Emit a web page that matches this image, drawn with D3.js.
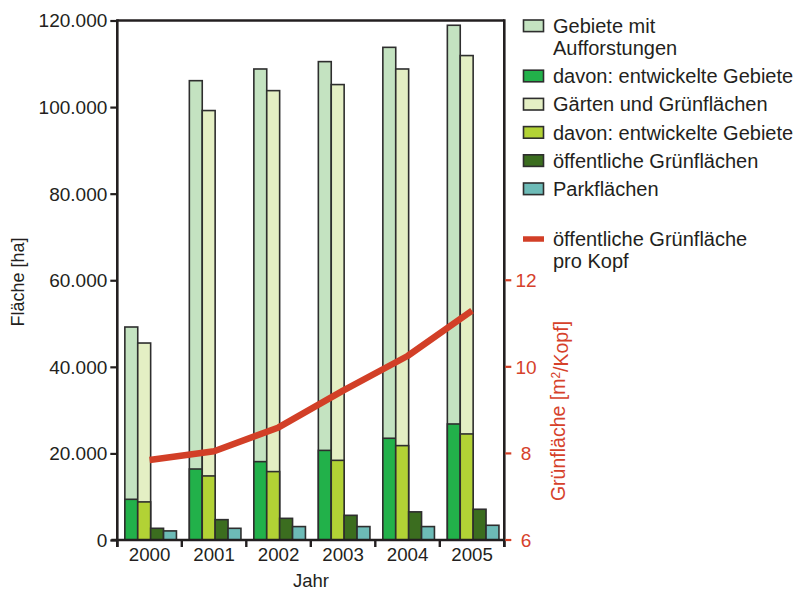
<!DOCTYPE html>
<html><head><meta charset="utf-8">
<script src="https://cdn.jsdelivr.net/npm/d3@7"></script>
<style>
body{margin:0;background:#fff;}
svg{display:block;font-family:"Liberation Sans",Arial,Helvetica,sans-serif;}
</style></head>
<body><svg id="c" width="797" height="591"></svg>
<script>
const years = ["2000","2001","2002","2003","2004","2005"];
const aufforstung = [49200,106100,108800,110500,113800,118900];
const aufforstungEntw = [9400,16400,18100,20700,23500,26800];
const gaerten = [45500,99200,103800,105200,108800,111900];
const gaertenEntw = [8800,14800,15800,18400,21800,24500];
const oeffentlich = [2700,4700,5000,5700,6500,7100];
const park = [2100,2700,3100,3100,3100,3400];
const proKopf = [7.85,8.05,8.6,9.45,10.25,11.3];
const leftTicks = [0,20000,40000,60000,80000,100000,120000];
const rightTicks = [6,8,10,12];
const legendItems = [
  {lines:["Gebiete mit","Aufforstungen"], color:"#c4e3c1", type:"box"},
  {lines:["davon: entwickelte Gebiete"], color:"#22b14a", type:"box"},
  {lines:["Gärten und Grünflächen"], color:"#e4efc4", type:"box"},
  {lines:["davon: entwickelte Gebiete"], color:"#b2d235", type:"box"},
  {lines:["öffentliche Grünflächen"], color:"#3b6d1f", type:"box"},
  {lines:["Parkflächen"], color:"#6dbbb7", type:"box"},
  {lines:["öffentliche Grünfläche","pro Kopf"], color:"#d23f27", type:"line"}
];

const ink = "#231f20", red = "#d23f27", redText = "#d6412b";
const svg = d3.select("#c");
const L = 117.3, R = 504.3, T = 20.5, B = 540;

const x = d3.scaleBand().domain(years).range([L, R]).padding(0);
const y = d3.scaleLinear().domain([0,120000]).range([B, T]);
const y2 = d3.scaleLinear().domain([6,18]).range([B, T]);

const bw = x.bandwidth();
const barW = bw * 0.2;
const off = bw * 0.117;

const fmt = d => d3.format(",")(d).replace(/,/g, ".");

// bars
const series = [
  {vals: aufforstung, color: "#c4e3c1", slot: 0},
  {vals: aufforstungEntw, color: "#22b14a", slot: 0},
  {vals: gaerten, color: "#e4efc4", slot: 1},
  {vals: gaertenEntw, color: "#b2d235", slot: 1},
  {vals: oeffentlich, color: "#3b6d1f", slot: 2},
  {vals: park, color: "#6dbbb7", slot: 3}
];
const gBars = svg.append("g");
series.forEach(s => {
  gBars.selectAll(null).data(years).enter().append("rect")
    .attr("x", (d,i) => x(d) + off + s.slot * barW)
    .attr("width", barW)
    .attr("y", (d,i) => y(s.vals[i]))
    .attr("height", (d,i) => B - y(s.vals[i]))
    .attr("fill", s.color)
    .attr("stroke", "#2e2e2e")
    .attr("stroke-width", 1.6);
});

// frame
svg.append("line").attr("x1", L).attr("x2", R).attr("y1", T).attr("y2", T)
  .attr("stroke", ink).attr("stroke-width", 2.6);
svg.append("line").attr("x1", R).attr("x2", R).attr("y1", T - 1.3).attr("y2", B + 7)
  .attr("stroke", ink).attr("stroke-width", 2.6);

// left axis
const yAxis = d3.axisLeft(y).tickValues(leftTicks).tickFormat(fmt).tickSize(7).tickPadding(3);
const gy = svg.append("g").attr("transform", `translate(${L},0)`).call(yAxis);
gy.select(".domain").attr("stroke", ink).attr("stroke-width", 2.6).attr("d", `M0,${T-1.3}V${B+7}`);
gy.selectAll(".tick line").attr("stroke", ink).attr("stroke-width", 2.2);
gy.selectAll(".tick text").attr("fill", ink).style("font-size", "19px").attr("dy", "0.34em");

// bottom axis
svg.append("line").attr("x1", L - 6).attr("x2", R).attr("y1", B).attr("y2", B)
  .attr("stroke", ink).attr("stroke-width", 2.6);
const gx = svg.append("g");
gx.selectAll(null).data(years.concat(["end"])).enter().append("line")
  .attr("x1", (d,i) => L + i * bw).attr("x2", (d,i) => L + i * bw)
  .attr("y1", B).attr("y2", B + 7).attr("stroke", ink).attr("stroke-width", 2.4);
gx.selectAll(null).data(years).enter().append("text")
  .attr("x", d => x(d) + bw / 2).attr("y", 560.5)
  .attr("text-anchor", "middle").attr("fill", ink).style("font-size", "18.7px").text(d => d);
svg.append("text").attr("x", 311).attr("y", 587).attr("text-anchor", "middle")
  .attr("fill", ink).style("font-size", "18.5px").text("Jahr");
svg.append("text").attr("transform", "translate(24,282) rotate(-90)").attr("text-anchor", "middle")
  .attr("fill", ink).style("font-size", "18px").text("Fläche [ha]");

// right axis
const gr = svg.append("g");
gr.selectAll(null).data(rightTicks).enter().append("line")
  .attr("x1", R + 1).attr("x2", R + 7).attr("y1", d => y2(d)).attr("y2", d => y2(d))
  .attr("stroke", red).attr("stroke-width", 2.2);
gr.selectAll(null).data(rightTicks).enter().append("text")
  .attr("x", 526).attr("y", d => y2(d)).attr("dy", "0.36em").attr("text-anchor", "middle")
  .attr("fill", redText).style("font-size", "19px").text(d => d);
const rl = svg.append("text").attr("transform", "translate(565,411) rotate(-90)").attr("text-anchor", "middle")
  .attr("fill", redText).style("font-size", "19.5px");
rl.append("tspan").text("Grünfläche [m");
rl.append("tspan").attr("dy", "-0.45em").style("font-size", "12px").text("2");
rl.append("tspan").attr("dy", "0.45em").text("/Kopf]");

// red line
const line = d3.line().x((d,i) => x(years[i]) + bw / 2).y(d => y2(d));
svg.append("path").datum(proKopf).attr("d", line).attr("fill", "none")
  .attr("stroke", red).attr("stroke-width", 6.5).attr("stroke-linejoin", "round");

// legend
const lg = svg.append("g");
let cy = 25.8;
legendItems.forEach((it, k) => {
  if (it.type === "line") cy += 22;
  if (it.type === "box") {
    lg.append("rect").attr("x", 523.5).attr("y", cy - 5.8).attr("width", 20).attr("height", 11.6)
      .attr("fill", it.color).attr("stroke", "#2e2e2e").attr("stroke-width", 1.6);
  } else {
    lg.append("line").attr("x1", 523).attr("x2", 544).attr("y1", cy).attr("y2", cy)
      .attr("stroke", it.color).attr("stroke-width", 5.5);
  }
  it.lines.forEach((t, j) => {
    lg.append("text").attr("x", 553).attr("y", cy + j * 22).attr("dy", "0.36em")
      .attr("fill", ink).style("font-size", "20px").text(t);
  });
  cy += (it.lines.length - 1) * 22 + 28.2;
});
</script></body></html>
